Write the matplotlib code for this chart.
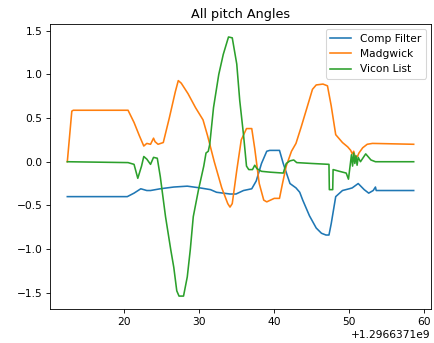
import numpy as np
import matplotlib
matplotlib.use("Agg")
import matplotlib.pyplot as plt

t_base = 1296637100.0

comp_t = [12.4, 20.4, 21.3, 22.2, 23.0, 23.5, 24.8, 26.6, 28.4, 30.1, 31.5, 32.3, 34.1, 34.9,
          35.9, 37.0, 37.6, 38.3, 39.0, 39.4, 40.7, 41.2, 42.1, 42.9, 43.4, 43.8, 44.7, 45.6,
          46.3, 46.9, 47.3, 47.6, 48.2, 49.1, 50.0, 50.4, 51.2, 52.0, 52.6, 53.2, 53.5, 53.6, 58.6]
comp_v = [-0.40, -0.40, -0.36, -0.31, -0.33, -0.33, -0.31, -0.29, -0.28, -0.30, -0.32, -0.35, -0.37, -0.37,
          -0.33, -0.31, -0.22, -0.02, 0.12, 0.13, 0.13, -0.02, -0.25, -0.30, -0.35, -0.44, -0.62, -0.76,
          -0.82, -0.84, -0.84, -0.71, -0.40, -0.33, -0.31, -0.30, -0.25, -0.32, -0.36, -0.33, -0.29, -0.33, -0.33]

madg_t = [12.4, 13.0, 13.2, 20.5, 21.3, 22.0, 22.6, 23.0, 23.5, 23.9, 24.1, 24.5, 25.2, 26.0,
          26.8, 27.2, 27.6, 28.5, 29.5, 30.5, 31.1, 32.0, 33.0, 33.8, 34.1, 34.4, 35.0, 35.6,
          36.3, 37.0, 37.4, 38.0, 38.6, 39.0, 40.0, 40.7, 41.1, 41.6, 42.3, 42.9, 43.6, 44.3,
          45.1, 45.6, 46.5, 47.1, 47.6, 48.2, 49.1, 49.8, 50.2, 50.4, 50.6, 50.8, 51.1, 51.3,
          51.8, 52.4, 53.1, 58.6]
madg_v = [0.0, 0.58, 0.59, 0.59, 0.45, 0.30, 0.18, 0.21, 0.20, 0.27, 0.23, 0.20, 0.22, 0.50,
          0.80, 0.93, 0.90, 0.78, 0.62, 0.48, 0.30, 0.00, -0.30, -0.48, -0.52, -0.48, -0.10, 0.25,
          0.38, 0.38, 0.15, -0.25, -0.44, -0.46, -0.42, -0.42, -0.25, -0.05, 0.12, 0.21, 0.40, 0.60,
          0.83, 0.88, 0.89, 0.87, 0.64, 0.31, 0.22, 0.17, 0.13, 0.09, 0.12, 0.05, 0.06, 0.10,
          0.16, 0.20, 0.21, 0.20]

vic_t = [12.4, 20.5, 21.3, 21.8, 22.3, 22.6, 23.0, 23.5, 23.9, 24.4, 24.8, 25.5, 26.2, 26.6,
         27.0, 27.3, 27.9, 28.4, 28.8, 29.2, 29.9, 30.6, 30.9, 31.2, 31.4, 31.9, 32.6, 33.2,
         33.9, 34.4, 35.0, 35.4, 35.9, 36.3, 36.6, 37.1, 37.4, 37.7, 38.3, 39.5, 41.2, 41.6,
         42.1, 42.6, 43.0, 45.0, 47.3, 47.35, 47.8, 47.85, 48.7, 49.6, 49.9, 50.3, 50.45, 50.6,
         50.75, 50.9, 51.05, 51.2, 51.5, 52.2, 52.9, 53.5, 58.6]
vic_v = [0.0, -0.01, -0.03, -0.19, -0.05, 0.06, 0.03, -0.03, 0.05, 0.04, -0.17, -0.63, -1.01, -1.21,
         -1.48, -1.54, -1.54, -1.32, -1.01, -0.63, -0.32, -0.05, 0.10, 0.12, 0.20, 0.62, 1.00, 1.23,
         1.43, 1.42, 1.12, 0.70, 0.31, -0.05, -0.09, -0.09, -0.04, -0.08, -0.11, -0.12, -0.13, -0.02,
         0.01, 0.02, -0.01, -0.02, -0.03, -0.32, -0.32, -0.09, -0.11, -0.13, -0.20, 0.08, -0.05, 0.10,
         -0.02, 0.07, -0.04, 0.05, 0.0, 0.09, 0.02, 0.0, 0.0]

DPI = 76.8
fig, ax = plt.subplots(figsize=(434 / DPI, 343 / DPI), dpi=DPI)
ax.plot(t_base + np.array(comp_t), comp_v, label="Comp Filter")
ax.plot(t_base + np.array(madg_t), madg_v, label="Madgwick")
ax.plot(t_base + np.array(vic_t), vic_v, label="Vicon List")
ax.set_title("All pitch Angles")
ax.legend(loc="upper right")
fig.subplots_adjust(left=0.1152, right=0.9931, bottom=0.099, top=0.930)
fig.savefig("out.png", dpi=DPI)
